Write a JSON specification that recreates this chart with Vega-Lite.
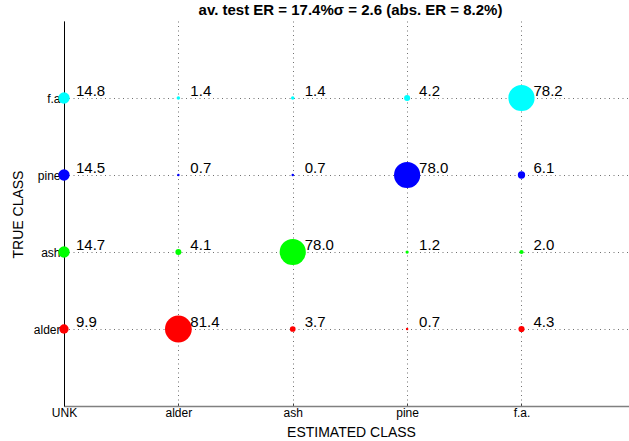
{
  "$schema": "https://vega.github.io/schema/vega-lite/v6.json",
  "width": 565,
  "height": 385,
  "autosize": {"type": "none"},
  "padding": {"left": 64, "top": 21, "right": 0, "bottom": 35},
  "background": "white",
  "config": {
    "view": {"stroke": null},
    "font": "Liberation Sans"
  },
  "title": {
    "text": "av. test ER = 17.4%σ = 2.6 (abs. ER = 8.2%)",
    "fontSize": 15,
    "fontWeight": "bold",
    "font": "Liberation Sans",
    "color": "black",
    "anchor": "middle",
    "baseline": "alphabetic",
    "offset": 8,
    "dx": 4,
    "dy": 17
  },
  "data": {
    "values": [
      {"true": "alder", "est": "UNK", "ti": 1, "ei": 0, "pct": 9.9},
      {"true": "alder", "est": "alder", "ti": 1, "ei": 1, "pct": 81.4},
      {"true": "alder", "est": "ash", "ti": 1, "ei": 2, "pct": 3.7},
      {"true": "alder", "est": "pine", "ti": 1, "ei": 3, "pct": 0.7},
      {"true": "alder", "est": "f.a.", "ti": 1, "ei": 4, "pct": 4.3},
      {"true": "ash", "est": "UNK", "ti": 2, "ei": 0, "pct": 14.7},
      {"true": "ash", "est": "alder", "ti": 2, "ei": 1, "pct": 4.1},
      {"true": "ash", "est": "ash", "ti": 2, "ei": 2, "pct": 78.0},
      {"true": "ash", "est": "pine", "ti": 2, "ei": 3, "pct": 1.2},
      {"true": "ash", "est": "f.a.", "ti": 2, "ei": 4, "pct": 2.0},
      {"true": "pine", "est": "UNK", "ti": 3, "ei": 0, "pct": 14.5},
      {"true": "pine", "est": "alder", "ti": 3, "ei": 1, "pct": 0.7},
      {"true": "pine", "est": "ash", "ti": 3, "ei": 2, "pct": 0.7},
      {"true": "pine", "est": "pine", "ti": 3, "ei": 3, "pct": 78.0},
      {"true": "pine", "est": "f.a.", "ti": 3, "ei": 4, "pct": 6.1},
      {"true": "f.a", "est": "UNK", "ti": 4, "ei": 0, "pct": 14.8},
      {"true": "f.a", "est": "alder", "ti": 4, "ei": 1, "pct": 1.4},
      {"true": "f.a", "est": "ash", "ti": 4, "ei": 2, "pct": 1.4},
      {"true": "f.a", "est": "pine", "ti": 4, "ei": 3, "pct": 4.2},
      {"true": "f.a", "est": "f.a.", "ti": 4, "ei": 4, "pct": 78.2}
    ]
  },
  "encoding": {
    "x": {
      "field": "ei",
      "type": "quantitative",
      "scale": {"domain": [0, 4.94], "nice": false, "zero": false},
      "axis": {
        "values": [0, 1, 2, 3, 4],
        "labelExpr": "['UNK','alder','ash','pine','f.a.'][datum.value]",
        "title": "ESTIMATED CLASS",
        "titleFontSize": 14,
        "titleFontWeight": "normal",
        "titleFont": "Liberation Sans",
        "titleColor": "black",
        "titleX": 287,
        "titleY": 30,
        "titleBaseline": "alphabetic",
        "titleAlign": "center",
        "labelFontSize": 12,
        "labelFont": "Liberation Sans",
        "labelColor": "black",
        "labelPadding": 4,
        "labelBaseline": "top",
        "labelFlush": false,
        "labelOverlap": false,
        "domainColor": "#808080",
        "domainWidth": 1.5,
        "ticks": true,
        "tickSize": -3,
        "tickColor": "#404040",
        "grid": true,
        "gridDash": [1, 3.5],
        "gridColor": "#707070",
        "gridWidth": 1
      }
    },
    "y": {
      "field": "ti",
      "type": "quantitative",
      "scale": {"domain": [0, 5], "nice": false, "zero": false},
      "axis": {
        "values": [1, 2, 3, 4],
        "labelExpr": "['','alder','ash','pine','f.a'][datum.value]",
        "title": "TRUE CLASS",
        "titleFontSize": 14,
        "titleFontWeight": "normal",
        "titleFont": "Liberation Sans",
        "titleColor": "black",
        "titleAngle": -90,
        "titleX": -46,
        "titleY": 193,
        "titleAlign": "center",
        "titleBaseline": "middle",
        "labelFontSize": 12,
        "labelFont": "Liberation Sans",
        "labelColor": "black",
        "labelPadding": 4,
        "labelBaseline": "middle",
        "ticks": false,
        "domainColor": "black",
        "domainWidth": 1,
        "grid": true,
        "gridDash": [1, 3.5],
        "gridColor": "#707070",
        "gridWidth": 1
      }
    }
  },
  "layer": [
    {
      "mark": {"type": "circle", "opacity": 1, "strokeWidth": 0},
      "encoding": {
        "size": {
          "field": "pct",
          "type": "quantitative",
          "scale": {"type": "linear", "domain": [0, 100], "range": [0, 880]},
          "legend": null
        },
        "color": {
          "field": "true",
          "type": "nominal",
          "scale": {"domain": ["alder", "ash", "pine", "f.a"], "range": ["#ff0000", "#00ff00", "#0000ff", "#00ffff"]},
          "legend": null
        }
      }
    },
    {
      "mark": {"type": "text", "align": "left", "baseline": "alphabetic", "dx": 12, "dy": -2, "fontSize": 15, "font": "Liberation Sans", "color": "black"},
      "encoding": {
        "text": {"field": "pct", "type": "quantitative", "format": ".1f"}
      }
    }
  ]
}
